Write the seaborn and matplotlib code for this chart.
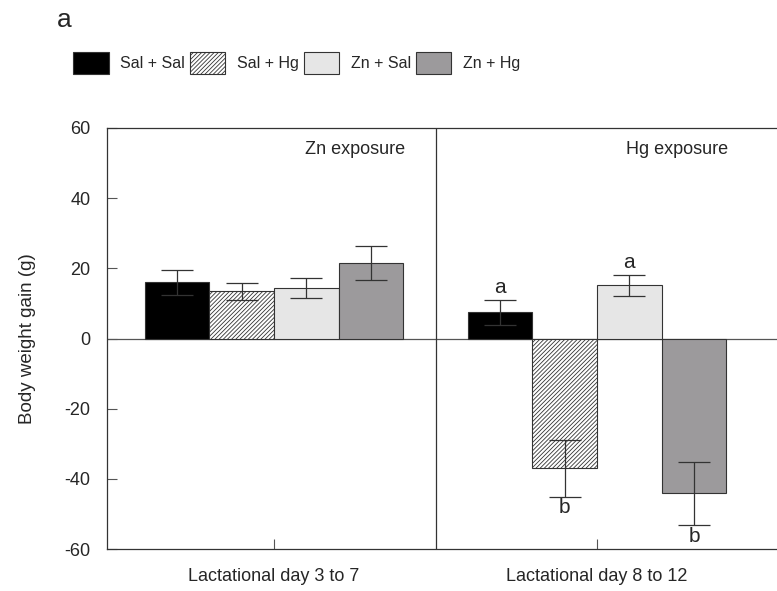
import pandas as pd
import numpy as np
import matplotlib
matplotlib.use("Agg")
import matplotlib.pyplot as plt
import matplotlib.patches as mpatches
import seaborn as sns

# values
periods = ["Lactational day 3 to 7", "Lactational day 8 to 12"]
groups = ["Sal + Sal", "Sal + Hg", "Zn + Sal", "Zn + Hg"]
gain_p1 = [16.0, 13.4, 14.4, 21.6]
gain_p2 = [7.5, -37.0, 15.2, -44.1]
err_p1 = [3.5, 2.5, 2.9, 4.8]
err_p2 = [3.6, 8.1, 3.0, 9.0]
letters_p2 = ["a", "b", "a", "b"]
colors = ["#000000", "#ffffff", "#e6e6e6", "#9c9a9c"]

df = pd.DataFrame({
    "period": [periods[0]] * 4 + [periods[1]] * 4,
    "group": groups * 2,
    "gain": gain_p1 + gain_p2,
    "err": err_p1 + err_p2,
})

sns.set_style("white")
plt.rcParams["font.family"] = ["Liberation Sans", "DejaVu Sans"]
plt.rcParams["axes.unicode_minus"] = False
plt.rcParams["hatch.color"] = "#333333"
plt.rcParams["hatch.linewidth"] = 0.6

fig = plt.figure(figsize=(7.77, 5.91), dpi=100)
ax = fig.add_axes([107 / 777, 1 - 549 / 591, 1 - 107 / 777, (549 - 128) / 591])

sns.barplot(data=df, x="period", y="gain", hue="group", hue_order=groups,
            palette=colors, width=0.8, errorbar=None, edgecolor="#333333",
            linewidth=0.8, legend=False, ax=ax)

bar_groups = list(ax.containers)

# hatch for Sal + Hg
for bar in bar_groups[1]:
    bar.set_hatch("////////")

# error bars and letters
for i, cont in enumerate(bar_groups):
    for j, bar in enumerate(cont):
        xc = bar.get_x() + bar.get_width() / 2
        v = df[(df.group == groups[i]) & (df.period == periods[j])]
        y = v["gain"].iloc[0]
        e = v["err"].iloc[0]
        ax.errorbar(xc, y, yerr=e, color="#333333", elinewidth=0.9,
                    capsize=11.5, capthick=0.9, zorder=5)
        if j == 1:
            if y > 0:
                ax.text(xc, y + e + 0.8, letters_p2[i], ha="center", va="bottom", fontsize=15)
            else:
                ax.text(xc, y - e - 0.5, letters_p2[i], ha="center", va="top", fontsize=15)

ax.axhline(0, color="#555555", lw=0.9, zorder=0)
ax.axvline(0.5, color="#333333", lw=0.9)

ax.set_ylim(-60, 60)
ax.set_xlim(-0.517, 1.557)
ax.set_yticks([-60, -40, -20, 0, 20, 40, 60])
ax.set_xlabel("")
ax.set_ylabel("Body weight gain (g)", fontsize=13.5, labelpad=20)
ax.tick_params(axis="y", direction="in", length=7, width=0.8, color="#555555", pad=12, labelsize=13)
ax.tick_params(axis="x", direction="in", length=7, width=0.8, color="#555555", pad=14, labelsize=13)
ax.tick_params(left=True, bottom=True)
ax.spines["right"].set_visible(False)
for s in ax.spines.values():
    s.set_color("#333333")
    s.set_linewidth(0.9)

ax.text(0.25, 53.8, "Zn exposure", ha="center", va="center", fontsize=13)
ax.text(1.248, 53.8, "Hg exposure", ha="center", va="center", fontsize=13)

handles = [mpatches.Patch(facecolor=c, edgecolor="#333333", linewidth=0.8,
                          hatch="////////" if k == 1 else None, label=g)
           for k, (c, g) in enumerate(zip(colors, groups))]
fig.legend(handles=handles, loc="center left", bbox_to_anchor=(59 / 777, 1 - 63 / 591),
           ncol=4, frameon=False, fontsize=11.5,
           handlelength=2.2, handleheight=1.65, handletextpad=0.75, columnspacing=0.3)

fig.text(57 / 777, 1 - 20 / 591, "a", fontsize=19, ha="left", va="center")

fig.savefig("out.png", dpi=100)
